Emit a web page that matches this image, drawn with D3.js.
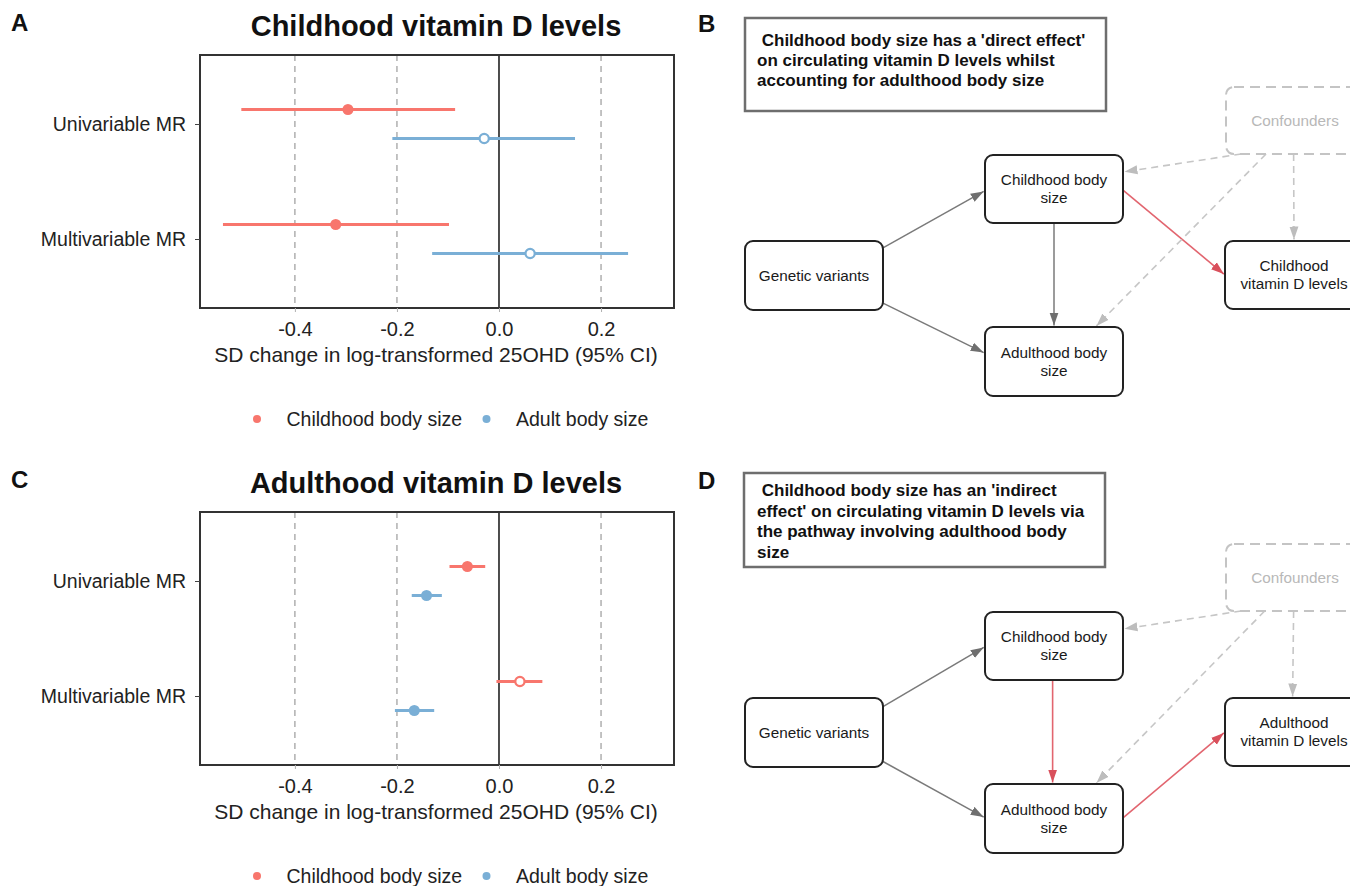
<!DOCTYPE html>
<html><head><meta charset="utf-8">
<script src="https://cdn.jsdelivr.net/npm/d3@7"></script>
<style>
body{margin:0;background:#fff}
svg{display:block}
text{font-family:"Liberation Sans",Arial,Helvetica,sans-serif}
</style>
</head><body>
<svg id="chart" width="1350" height="886"></svg>
<script>
// ---------------- DATA ----------------
const categories = ["Univariable MR", "Multivariable MR"];
const seriesNames = ["Childhood body size", "Adult body size"];
const xTickValues = [-0.4, -0.2, 0.0, 0.2];
const xAxisTitle = "SD change in log-transformed 25OHD (95% CI)";

// Panel A – Childhood vitamin D levels
const childVitD_childBody_est = [-0.296, -0.320];
const childVitD_childBody_lo  = [-0.505, -0.541];
const childVitD_childBody_hi  = [-0.086, -0.098];
const childVitD_childBody_sig = [true, true];
const childVitD_adultBody_est = [-0.029, 0.061];
const childVitD_adultBody_lo  = [-0.209, -0.131];
const childVitD_adultBody_hi  = [0.149, 0.253];
const childVitD_adultBody_sig = [false, false];

// Panel C – Adulthood vitamin D levels
const adultVitD_childBody_est = [-0.062, 0.041];
const adultVitD_childBody_lo  = [-0.097, -0.005];
const adultVitD_childBody_hi  = [-0.027, 0.085];
const adultVitD_childBody_sig = [true, false];
const adultVitD_adultBody_est = [-0.142, -0.166];
const adultVitD_adultBody_lo  = [-0.171, -0.204];
const adultVitD_adultBody_hi  = [-0.112, -0.127];
const adultVitD_adultBody_sig = [true, true];

// Diagram texts
const captionB = [" Childhood body size has a 'direct effect'", "on circulating vitamin D levels whilst", "accounting for adulthood body size"];
const captionD = [" Childhood body size has an 'indirect", "effect' on circulating vitamin D levels via", "the pathway involving adulthood body", "size"];
const nodeLabelsB = {gen:["Genetic variants"], cbs:["Childhood body","size"], abs:["Adulthood body","size"], out:["Childhood","vitamin D levels"], conf:["Confounders"]};
const nodeLabelsD = {gen:["Genetic variants"], cbs:["Childhood body","size"], abs:["Adulthood body","size"], out:["Adulthood","vitamin D levels"], conf:["Confounders"]};

// ---------------- STYLE ----------------
const colors = {"Childhood body size":"#F8766D", "Adult body size":"#7AAFD6"};
const svg = d3.select("#chart");
const defs = svg.append("defs");
function marker(id, color){
  defs.append("marker").attr("id", id).attr("markerUnits","userSpaceOnUse")
    .attr("viewBox","0 0 13 10").attr("refX",13).attr("refY",5)
    .attr("markerWidth",13).attr("markerHeight",10).attr("orient","auto")
    .append("path").attr("d","M0,0.5 L13,5 L0,9.5 Z").attr("fill", color);
}
const edgeStyles = {
  solid:{color:"#7a7a7a", width:1.5, dash:null, marker:"mGray"},
  red:{color:"#E2656F", width:1.6, dash:null, marker:"mRed"},
  dashed:{color:"#c6c6c6", width:1.6, dash:"7,5", marker:"mLight"}
};
marker("mGray","#6f6f6f"); marker("mRed","#D9505C"); marker("mLight","#bdbdbd");

// ---------------- FOREST PLOTS ----------------
function forest(oy, title, letter, rows){
  const g = svg.append("g").attr("transform", `translate(0,${oy})`);
  const top = 55, bottom = 308, left = 200, right = 674;
  const x = d3.scaleLinear().domain([-0.586, 0.343]).range([left, right]);
  const y = d3.scalePoint().domain(categories).range([top, bottom]).padding(0.6);
  const dodge = d3.scalePoint().domain(seriesNames).range([-14.5, 14.5]);

  g.append("text").attr("x", 11).attr("y", 31).attr("font-size", 24).attr("font-weight","bold").attr("fill","#111").text(letter);
  g.append("text").attr("x", 436).attr("y", 36).attr("text-anchor","middle").attr("font-size", 29).attr("font-weight","bold").attr("fill","#111").text(title);

  g.selectAll(".grid").data(xTickValues.filter(v => v !== 0)).join("line")
    .attr("x1", d => x(d)).attr("x2", d => x(d)).attr("y1", top).attr("y2", bottom)
    .attr("stroke", "#a3a3a3").attr("stroke-width", 1.3).attr("stroke-dasharray", "6,5");
  g.append("line").attr("x1", x(0)).attr("x2", x(0)).attr("y1", top).attr("y2", bottom)
    .attr("stroke", "#222").attr("stroke-width", 1.6);

  g.selectAll(".ci").data(rows).join("line")
    .attr("x1", d => x(d.lo)).attr("x2", d => x(d.hi))
    .attr("y1", d => y(d.cat) + dodge(d.series)).attr("y2", d => y(d.cat) + dodge(d.series))
    .attr("stroke", d => colors[d.series]).attr("stroke-width", 3);
  g.selectAll(".pt").data(rows).join("circle")
    .attr("cx", d => x(d.est)).attr("cy", d => y(d.cat) + dodge(d.series))
    .attr("r", d => d.sig ? 5.5 : 4.6)
    .attr("fill", d => d.sig ? colors[d.series] : "#fff")
    .attr("stroke", d => colors[d.series]).attr("stroke-width", d => d.sig ? 0 : 2.2);

  g.append("rect").attr("x", left).attr("y", top).attr("width", right - left).attr("height", bottom - top)
    .attr("fill", "none").attr("stroke", "#333").attr("stroke-width", 2);

  const xa = g.append("g").attr("transform", `translate(0,${bottom})`)
    .call(d3.axisBottom(x).tickValues(xTickValues).tickSize(4).tickPadding(10).tickFormat(d => d.toFixed(1)));
  xa.select(".domain").remove();
  xa.selectAll(".tick line").attr("stroke", "#b0b0b0").attr("stroke-width", 1);
  xa.selectAll(".tick text").attr("font-size", 20).attr("fill", "#222").style("font-family", '"Liberation Sans",Arial,sans-serif');

  const ya = g.append("g").attr("transform", `translate(${left},0)`)
    .call(d3.axisLeft(y).tickSize(5).tickPadding(9));
  ya.select(".domain").remove();
  ya.selectAll(".tick line").attr("stroke", "#444").attr("stroke-width", 1);
  ya.selectAll(".tick text").attr("font-size", 19.5).attr("fill", "#222").style("font-family", '"Liberation Sans",Arial,sans-serif');

  g.append("text").attr("x", 436).attr("y", 362).attr("text-anchor","middle").attr("font-size", 21).attr("fill","#222").text(xAxisTitle);

  const legX = {"Childhood body size":257, "Adult body size":486.5};
  const lg = g.selectAll(".leg").data(seriesNames).join("g");
  lg.append("circle").attr("cx", d => legX[d]).attr("cy", 419).attr("r", 4).attr("fill", d => colors[d]);
  lg.append("text").attr("x", d => legX[d] + 29.5).attr("y", 426).attr("font-size", 19.5).attr("fill", "#222").text(d => d);
}
function rowsFrom(cEst, cLo, cHi, cSig, aEst, aLo, aHi, aSig){
  const r = [];
  categories.forEach((c, i) => {
    r.push({cat:c, series:seriesNames[0], est:cEst[i], lo:cLo[i], hi:cHi[i], sig:cSig[i]});
    r.push({cat:c, series:seriesNames[1], est:aEst[i], lo:aLo[i], hi:aHi[i], sig:aSig[i]});
  });
  return r;
}
forest(0, "Childhood vitamin D levels", "A",
  rowsFrom(childVitD_childBody_est, childVitD_childBody_lo, childVitD_childBody_hi, childVitD_childBody_sig,
           childVitD_adultBody_est, childVitD_adultBody_lo, childVitD_adultBody_hi, childVitD_adultBody_sig));
forest(457, "Adulthood vitamin D levels", "C",
  rowsFrom(adultVitD_childBody_est, adultVitD_childBody_lo, adultVitD_childBody_hi, adultVitD_childBody_sig,
           adultVitD_adultBody_est, adultVitD_adultBody_lo, adultVitD_adultBody_hi, adultVitD_adultBody_sig));

// ---------------- DIAGRAMS ----------------
const nodeLayout = {
  gen:{x:745, y:241, w:138, h:69},
  cbs:{x:985, y:155, w:138, h:68},
  abs:{x:985, y:327, w:138, h:69},
  out:{x:1225, y:241, w:138, h:68},
  conf:{x:1226, y:87, w:138, h:67}
};
const edgesB = [
  {from:"gen", fa:[1,0.10], to:"cbs", ta:[0,0.525], style:"solid"},
  {from:"gen", fa:[1,0.90], to:"abs", ta:[0,0.38], style:"solid"},
  {from:"cbs", fa:[0.5,1], to:"abs", ta:[0.5,0], style:"solid"},
  {from:"cbs", fa:[1,0.515], to:"out", ta:[0,0.5], style:"red"},
  {from:"conf", fa:[0.11,1], to:"cbs", ta:[1,0.25], style:"dashed"},
  {from:"conf", fa:[0.29,1], to:"abs", ta:[0.8,0], style:"dashed"},
  {from:"conf", fa:[0.49,1], to:"out", ta:[0.5,0], style:"dashed"}
];
const edgesD = [
  {from:"gen", fa:[1,0.126], to:"cbs", ta:[0,0.51], style:"solid"},
  {from:"gen", fa:[1,0.92], to:"abs", ta:[0,0.49], style:"solid"},
  {from:"cbs", fa:[0.49,1], to:"abs", ta:[0.49,0], style:"red"},
  {from:"abs", fa:[1,0.49], to:"out", ta:[0,0.5], style:"red"},
  {from:"conf", fa:[0.11,1], to:"cbs", ta:[1,0.25], style:"dashed"},
  {from:"conf", fa:[0.28,1], to:"abs", ta:[0.8,0], style:"dashed"},
  {from:"conf", fa:[0.49,1], to:"out", ta:[0.49,0], style:"dashed"}
];

function diagram(oy, letter, caption, capBox, capY0, capLH, labels, edges){
  const g = svg.append("g").attr("transform", `translate(0,${oy})`);
  g.append("text").attr("x", 698).attr("y", 32).attr("font-size", 24).attr("font-weight","bold").attr("fill","#111").text(letter);
  g.append("rect").attr("x", capBox.x).attr("y", capBox.y).attr("width", capBox.w).attr("height", capBox.h)
    .attr("fill", "#fff").attr("stroke", "#6e6e6e").attr("stroke-width", 2.5);
  g.selectAll(".cap").data(caption).join("text")
    .attr("x", 757).attr("y", (d, i) => capY0 + i * capLH)
    .attr("font-size", 17).attr("font-weight", "bold").attr("fill", "#111")
    .style("white-space", "pre").attr("xml:space", "preserve").text(d => d);

  const pt = (n, a) => [nodeLayout[n].x + a[0] * nodeLayout[n].w, nodeLayout[n].y + a[1] * nodeLayout[n].h];
  edges.forEach(e => {
    const p0 = pt(e.from, e.fa), p1 = pt(e.to, e.ta);
    const dx = p1[0] - p0[0], dy = p1[1] - p0[1], L = Math.hypot(dx, dy);
    const q1 = [p1[0] - dx / L * 1.5, p1[1] - dy / L * 1.5];
    const st = edgeStyles[e.style];
    g.append("line").attr("x1", p0[0]).attr("y1", p0[1]).attr("x2", q1[0]).attr("y2", q1[1])
      .attr("stroke", st.color).attr("stroke-width", st.width)
      .attr("stroke-dasharray", st.dash).attr("marker-end", `url(#${st.marker})`);
  });

  Object.keys(nodeLayout).forEach(k => {
    const n = nodeLayout[k];
    const isConf = k === "conf";
    g.append("rect").attr("x", n.x).attr("y", n.y).attr("width", n.w).attr("height", n.h)
      .attr("rx", 8).attr("ry", 8)
      .attr("fill", isConf ? "none" : "#fff")
      .attr("stroke", isConf ? "#c4c4c4" : "#222").attr("stroke-width", 2)
      .attr("stroke-dasharray", isConf ? "10,6" : null);
    const lines = labels[k];
    const cy = n.y + n.h / 2;
    lines.forEach((t, i) => {
      g.append("text").attr("x", n.x + n.w / 2).attr("y", cy + (i - (lines.length - 1) / 2) * 18)
        .attr("dy", "0.35em").attr("text-anchor", "middle").attr("font-size", 15.3)
        .attr("fill", isConf ? "#b8b8b8" : "#1a1a1a").text(t);
    });
  });
}
diagram(0, "B", captionB, {x:745, y:18, w:361, h:93}, 46, 20.2, nodeLabelsB, edgesB);
diagram(457, "D", captionD, {x:744, y:16, w:361, h:94}, 39, 20.5, nodeLabelsD, edgesD);
</script>
</body></html>
